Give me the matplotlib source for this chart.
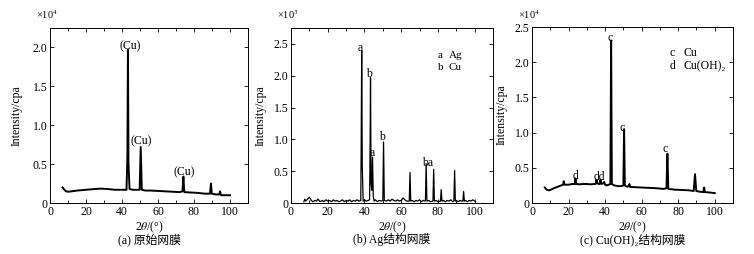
import matplotlib
matplotlib.use("Agg")
import matplotlib.pyplot as plt
from matplotlib.ticker import MultipleLocator

plt.rcParams['font.family'] = ['Liberation Serif', 'Noto Sans CJK SC', 'DejaVu Sans']
plt.rcParams['mathtext.fontset'] = 'stix'

# (a) original mesh, intensity in 1e4 cpa
a_x = [7, 8, 9, 10, 12, 15, 20, 25, 28, 32, 36, 40, 42.5, 43.0, 43.3, 43.6, 44.2, 46,
       49.8, 50.4, 51.0, 53, 56, 60, 64, 68, 72, 73.6, 74.1, 74.6, 78, 82, 86, 88.9,
       89.4, 89.9, 92, 94.0, 94.5, 95.0, 97, 100]
a_y = [0.20, 0.17, 0.15, 0.145, 0.15, 0.16, 0.17, 0.18, 0.185, 0.18, 0.17, 0.17, 0.17,
       0.6, 1.97, 0.5, 0.18, 0.17, 0.17, 0.72, 0.17, 0.16, 0.16, 0.155, 0.15, 0.145,
       0.14, 0.15, 0.34, 0.14, 0.135, 0.13, 0.12, 0.12, 0.25, 0.12, 0.11, 0.11, 0.15,
       0.10, 0.10, 0.10]

# (b) Ag mesh, intensity in 1e3 cpa
b_x = [7, 7.5, 8, 9, 10, 10.5, 11, 12, 13, 14, 14.5, 15, 16, 17, 18, 19, 20, 21, 22, 23,
       24, 25, 26, 27, 28, 29, 30, 31, 32, 33, 34, 35, 36, 37, 38.0, 38.2, 38.5, 38.8,
       39.3, 40, 41, 42, 42.8, 43.1, 43.3, 43.6, 44.0, 44.4, 44.8, 45.3, 46, 47, 48, 49,
       50.0, 50.4, 50.8, 52, 53, 54, 55, 56, 57, 58, 59, 60, 61, 62, 63, 64.4, 64.8, 65.2,
       66, 67, 68, 69, 70, 71, 72, 73.2, 73.6, 74.0, 75, 76, 77.3, 77.7, 78.1, 79, 80,
       81.4, 81.8, 82.2, 83, 84, 85, 86, 87, 88, 88.7, 89.1, 89.5, 90, 91, 92, 93, 93.6,
       94.0, 94.4, 95, 96, 97, 98, 99, 100]
b_y = [0.02, 0.06, 0.03, 0.06, 0.09, 0.07, 0.04, 0.02, 0.04, 0.03, 0.06, 0.05, 0.02,
       0.04, 0.02, 0.05, 0.03, 0.04, 0.02, 0.05, 0.03, 0.04, 0.02, 0.03, 0.05, 0.02, 0.04,
       0.03, 0.05, 0.02, 0.04, 0.03, 0.05, 0.03, 0.04, 0.8, 2.39, 0.6, 0.03, 0.05, 0.03,
       0.04, 0.05, 1.0, 1.97, 0.3, 0.2, 0.72, 0.1, 0.03, 0.05, 0.02, 0.04, 0.03, 0.04,
       0.96, 0.04, 0.03, 0.05, 0.03, 0.06, 0.04, 0.03, 0.05, 0.03, 0.04, 0.08, 0.05, 0.03,
       0.03, 0.48, 0.03, 0.04, 0.02, 0.04, 0.03, 0.05, 0.02, 0.04, 0.03, 0.62, 0.03, 0.04,
       0.02, 0.03, 0.53, 0.03, 0.04, 0.02, 0.03, 0.21, 0.03, 0.04, 0.02, 0.04, 0.03, 0.05,
       0.02, 0.03, 0.51, 0.03, 0.04, 0.02, 0.04, 0.03, 0.03, 0.18, 0.03, 0.04, 0.02, 0.04,
       0.03, 0.05, 0.03]

# (c) Cu(OH)2 mesh, intensity in 1e4 cpa
c_x = [7, 8, 9, 10, 12, 14, 16, 17.0, 17.4, 17.8, 20, 22, 23.4, 23.8, 24.2, 26, 28, 30,
       32, 34, 34.8, 35.3, 35.8, 36.5, 37.0, 37.5, 38.0, 39, 39.5, 40, 41, 42, 42.9, 43.3,
       43.7, 45, 47, 49, 50.0, 50.4, 50.8, 52, 53.0, 53.3, 53.6, 56, 60, 64, 68, 72, 73.6,
       74.1, 74.6, 78, 82, 86, 88.5, 89.2, 89.9, 92, 93.8, 94.2, 94.6, 97, 100]
c_y = [0.22, 0.19, 0.18, 0.185, 0.21, 0.23, 0.25, 0.26, 0.31, 0.26, 0.26, 0.27, 0.27,
       0.35, 0.27, 0.265, 0.27, 0.27, 0.265, 0.27, 0.27, 0.33, 0.28, 0.27, 0.27, 0.33,
       0.27, 0.28, 0.30, 0.26, 0.25, 0.26, 0.27, 2.31, 0.27, 0.25, 0.24, 0.24, 0.25, 1.05,
       0.25, 0.23, 0.24, 0.27, 0.23, 0.225, 0.22, 0.215, 0.21, 0.20, 0.21, 0.70, 0.20,
       0.19, 0.185, 0.18, 0.17, 0.41, 0.17, 0.16, 0.155, 0.22, 0.155, 0.15, 0.14]

a_labels = [(44.8, 2.01, '(Cu)'), (50.7, 0.79, '(Cu)'), (74.4, 0.40, '(Cu)')]
b_labels = [(37.6, 2.44, 'a'), (42.7, 2.03, 'b'), (44.5, 0.78, 'a'), (49.6, 1.03, 'b'),
            (74.6, 0.63, 'ba')]
c_labels = [(42.5, 2.35, 'c'), (49.4, 1.07, 'c'), (72.6, 0.77, 'c'), (23.8, 0.38, 'd'),
            (36.6, 0.37, 'dd')]

captions = ['(a) 原始网膜', '(b) Ag结构网膜', '(c) Cu(OH)₂结构网膜']
multipliers = ['×10$^4$', '×10$^3$', '×10$^4$']
ylims = [2.25, 2.75, 2.5]
positions = [(50, 28, 198), (291, 28, 202), (532, 27, 201)]  # left px, top px, width px
ylabel_x = [-0.136, -0.119, -0.12]

W, H = 754, 254
fig = plt.figure(figsize=(W / 100, H / 100), dpi=100)

series = [(a_x, a_y, a_labels), (b_x, b_y, b_labels), (c_x, c_y, c_labels)]
for i, (xs, ys, labels) in enumerate(series):
    left, top, width = positions[i]
    bottom = 203
    ax = fig.add_axes([left / W, 1 - bottom / H, width / W, (bottom - top) / H])
    ax.plot(xs, ys, color='black', lw=1.4 if i != 1 else 0.9)
    ax.set_xlim(0, 110)
    ax.set_ylim(0, ylims[i])
    ax.xaxis.set_major_locator(MultipleLocator(20))
    ax.xaxis.set_minor_locator(MultipleLocator(10))
    ax.yaxis.set_major_locator(MultipleLocator(0.5))
    ax.yaxis.set_major_formatter(plt.FuncFormatter(lambda v, p: '0' if v == 0 else f'{v:.1f}'))
    ax.tick_params(which='both', direction='in', top=True, right=True, labelsize=8.5,
                   width=0.6, pad=2)
    ax.tick_params(which='major', length=3)
    ax.tick_params(which='minor', length=2)
    for s in ax.spines.values():
        s.set_linewidth(0.7)
    ax.set_ylabel('Intensity/cpa', fontsize=8.5)
    ax.yaxis.set_label_coords(ylabel_x[i], 0.5)
    ax.set_xlabel('2$\\theta$/(°)', fontsize=8.5, labelpad=1)
    for x, y, t in labels:
        ax.text(x, y, t, ha='center', va='center', fontsize=8.5)
    fig.text((left - 14) / W, 1 - 15 / H, multipliers[i], fontsize=7.5, ha='left', va='center')
    fig.text((left + width / 2) / W, 1 - 240 / H, captions[i], fontsize=8.5,
             ha='center', va='center')
    if i == 1:
        ax.text(80, 2.32, 'a', fontsize=8, va='center')
        ax.text(86, 2.32, 'Ag', fontsize=8, va='center')
        ax.text(80, 2.13, 'b', fontsize=8, va='center')
        ax.text(86, 2.13, 'Cu', fontsize=8, va='center')
    if i == 2:
        ax.text(75.5, 2.13, 'c', fontsize=8.5, va='center')
        ax.text(83, 2.13, 'Cu', fontsize=8.5, va='center')
        ax.text(75.5, 1.94, 'd', fontsize=8.5, va='center')
        ax.text(83, 1.94, 'Cu(OH)₂', fontsize=8.5, va='center')

fig.savefig('out.png', dpi=100, facecolor='white')
